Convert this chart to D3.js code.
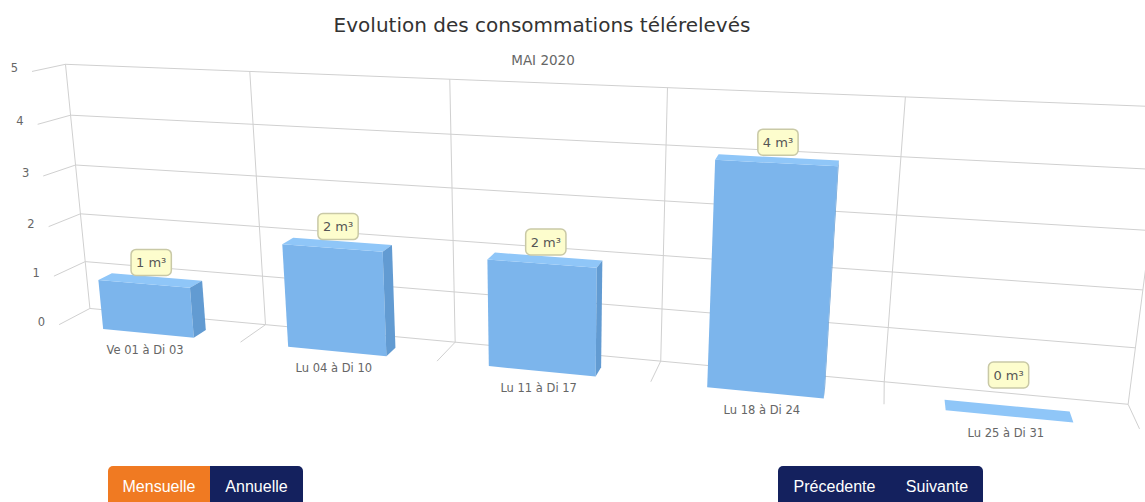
<!DOCTYPE html>
<html>
<head>
<meta charset="utf-8">
<script src="https://cdn.jsdelivr.net/npm/d3@7"></script>
<style>
  body { margin: 0; background: #fff; font-family: "DejaVu Sans", "Lucida Grande", sans-serif; }
  #chart { position: absolute; left: 0; top: 0; }
  .btns { position: absolute; top: 466px; display: flex; border-radius: 5px 5px 0 0; overflow: hidden; }
  .btns div { height: 42px; font: 16px "Liberation Sans", Arial, sans-serif; line-height: 42px;
              text-align: center; color: #fff; background: #14215e; }
  .btns .on { background: #f07a22; }
</style>
</head>
<body>
<svg id="chart" width="1145" height="502"></svg>
<div class="btns" style="left:108px"><div class="on" style="width:102px">Mensuelle</div><div style="width:93px">Annuelle</div></div>
<div class="btns" style="left:778px"><div style="width:113px">Précedente</div><div style="width:92px">Suivante</div></div>
<script>
/* Data */

const categories = ["Ve 01 à Di 03", "Lu 04 à Di 10", "Lu 11 à Di 17", "Lu 18 à Di 24", "Lu 25 à Di 31"];
const values = [1, 2, 2, 4, 0];
const yTicks = [0, 1, 2, 3, 4, 5];
const unit = "m³";

/* 3D view (highcharts like perspective) */

const W = 1173, H = 298, D = 61,
      plotLeft = -37.6, plotTop = 79.4,
      alpha = 15.1, beta = 14.6, viewDist = 1296, scale3d = 0.972,
      colDepth = 27,
      labelMaxY = 375;   // labels are kept inside the plot (justify)

const a = alpha * Math.PI / 180, b = -beta * Math.PI / 180;
const cosA = Math.cos(a), sinA = Math.sin(a), cosB = Math.cos(b), sinB = Math.sin(b);

function project(x, y, z) {
  const X = x - W / 2, Y = y - H / 2, Z = z - D / 2;
  const rx = cosB * X - sinB * Z;
  const ry = -sinA * sinB * X + cosA * Y - cosB * sinA * Z;
  const rz = cosA * sinB * X + sinA * Y + cosA * cosB * Z;
  const p = viewDist / (rz + D / 2 + viewDist);
  return [rx * p * scale3d + W / 2 + plotLeft, ry * p * scale3d + H / 2 + plotTop];
}

/* Scales */

const x = d3.scaleLinear().domain([0, categories.length]).range([0, W]);
const band = d3.scaleBand().domain(categories).range([0, W]).paddingInner(0.5).paddingOuter(0.25);
const y = d3.scaleLinear().domain([0, d3.max(yTicks)]).range([H, 0]);

const svg = d3.select("#chart");
const line = d3.line();
const path3d = pts => line(pts.map(p => project(p[0], p[1], p[2]))) + "Z";

/* Titles */

svg.append("text")
   .attr("x", 542).attr("y", 32)
   .attr("text-anchor", "middle")
   .style("font-size", "20px").style("fill", "#333")
   .text("Evolution des consommations télérelevés");

svg.append("text")
   .attr("x", 543).attr("y", 65)
   .attr("text-anchor", "middle")
   .style("font-size", "13.5px").style("fill", "#666")
   .text("MAI 2020");

/* Grid : back wall, left wall, floor */

const grid = svg.append("g").attr("fill", "none").attr("stroke", "#d0d0d0").attr("stroke-width", 1);
const seg = (p, q) => grid.append("path").attr("d", line([project(...p), project(...q)]));

yTicks.forEach(t => {
  seg([x(0), y(t), D], [x(categories.length), y(t), D]);
  seg([x(0), y(t), 0], [x(0), y(t), D]);
});
d3.range(categories.length + 1).forEach(i => {
  seg([x(i), y(0), D], [x(i), y(d3.max(yTicks)), D]);
  if (i > 0) seg([x(i), y(0), 0], [x(i), y(0), D]);
});

/* Y labels */

svg.append("g").selectAll("text")
   .data(yTicks).enter()
   .append("text")
   .attr("x", d => project(x(0), y(d), 0)[0] - 14)
   .attr("y", d => project(x(0), y(d), 0)[1] + 1)
   .attr("text-anchor", "end")
   .style("font-size", "11.5px").style("fill", "#666")
   .text(d => d);

/* X labels */

svg.append("g").selectAll("text")
   .data(categories).enter()
   .append("text")
   .attr("x", d => project(band(d) + band.bandwidth() / 2, y(0), 0)[0] - 3)
   .attr("y", d => project(band(d) + band.bandwidth() / 2, y(0), 0)[1] + 21)
   .attr("text-anchor", "middle")
   .style("font-size", "11.5px").style("fill", "#666")
   .text(d => d);

/* Columns */

const cols = svg.append("g");
categories.forEach((c, i) => {
  const x0 = band(c), x1 = band(c) + band.bandwidth();
  const y0 = y(0), y1 = y(values[i]);
  const z0 = 0, z1 = colDepth;
  const g = cols.append("g");
  g.append("path").attr("fill", "#7cb5ec")
   .attr("d", path3d([[x0, y1, z0], [x1, y1, z0], [x1, y0, z0], [x0, y0, z0]]));
  g.append("path").attr("fill", "#8fc6f8")
   .attr("d", path3d([[x0, y1, z0], [x1, y1, z0], [x1, y1, z1], [x0, y1, z1]]));
  g.append("path").attr("fill", "#629bd2")
   .attr("d", path3d([[x1, y1, z0], [x1, y1, z1], [x1, y0, z1], [x1, y0, z0]]));
});

/* Data labels */

const labels = svg.append("g");
categories.forEach((c, i) => {
  const p = project(band(c) + band.bandwidth() / 2, y(values[i]), colDepth / 2);
  const ly = Math.min(p[1] - 18, labelMaxY);
  const g = labels.append("g").attr("transform", "translate(" + (p[0] + 1) + "," + ly + ")");
  const t = g.append("text")
     .attr("text-anchor", "middle").attr("dy", "0.35em")
     .style("font-size", "13px").style("fill", "#555")
     .text(values[i] + " " + unit);
  const w = t.node().getComputedTextLength() + 10;
  g.insert("rect", "text")
   .attr("x", -w / 2).attr("y", -13).attr("width", w).attr("height", 26)
   .attr("rx", 5).attr("ry", 5)
   .attr("fill", "#fdfdcd").attr("stroke", "#c9c9a6").attr("stroke-width", 1.5);
});
</script>
</body>
</html>
